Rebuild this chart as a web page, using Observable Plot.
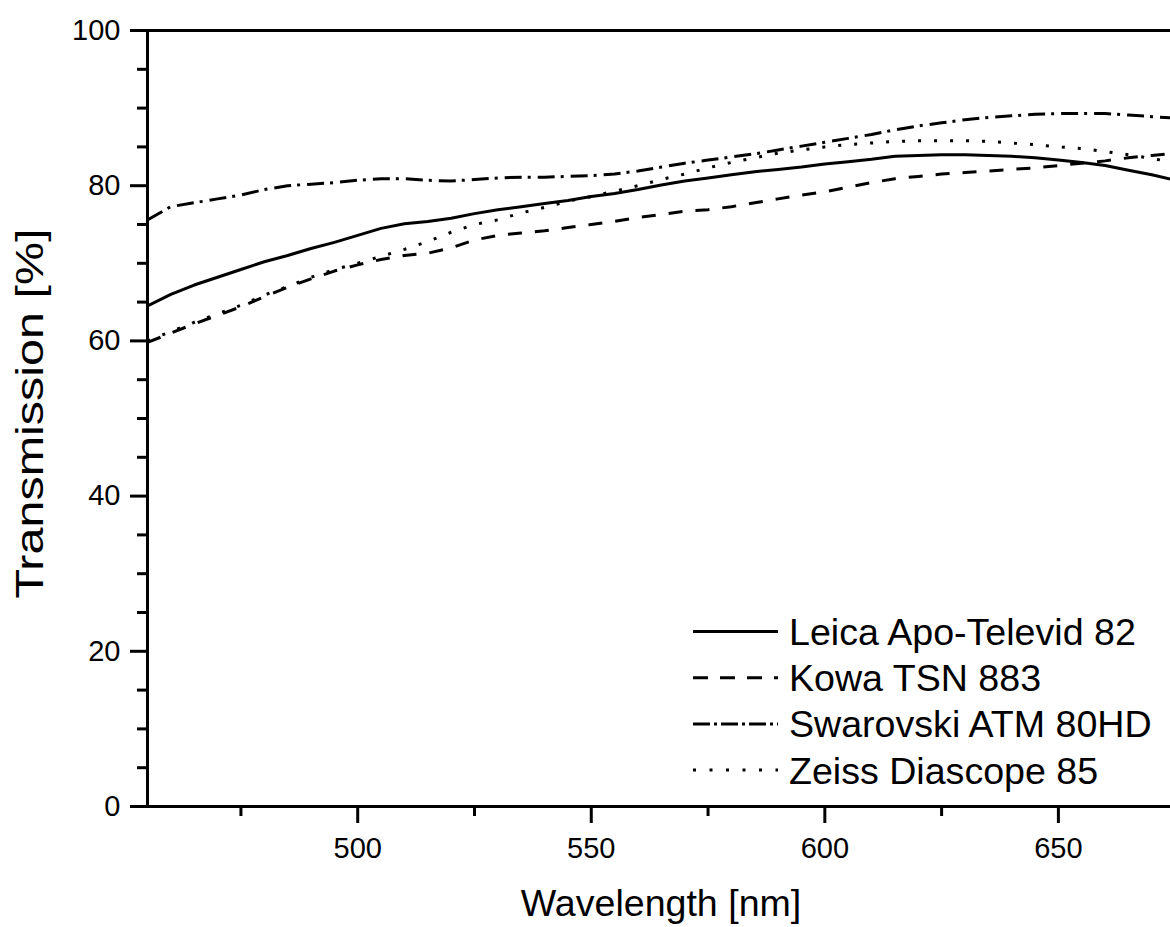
<!DOCTYPE html>
<html>
<head>
<meta charset="utf-8">
<script src="https://cdn.jsdelivr.net/npm/d3@7"></script>
<script src="https://cdn.jsdelivr.net/npm/@observablehq/plot@0.6"></script>
<style>
  html, body { margin: 0; padding: 0; background: #fff; }
  #wrap { position: relative; width: 1170px; height: 927px; overflow: hidden; font-family: "Liberation Sans", Arial, sans-serif; }
  #legend { position: absolute; left: 0; top: 0; }
</style>
</head>
<body>
<div id="wrap"></div>
<script>
// ---- data ----
const wavelength = [455,460,465,470,475,480,485,490,495,500,505,510,515,520,525,530,535,540,545,550,555,560,565,570,575,580,585,590,595,600,605,610,615,620,625,630,635,640,645,650,655,660,665,670,675];
const leica =      [64.5,66.0,67.2,68.2,69.2,70.2,71.0,71.9,72.7,73.6,74.5,75.1,75.4,75.8,76.4,76.9,77.3,77.7,78.1,78.6,79.0,79.5,80.1,80.6,81.0,81.4,81.8,82.1,82.4,82.8,83.1,83.4,83.8,83.9,84.0,84.0,83.9,83.8,83.6,83.3,83.0,82.6,82.0,81.4,80.7];
const kowa =       [59.8,61.0,62.2,63.3,64.4,65.7,66.9,68.0,69.0,69.8,70.5,71.0,71.3,72.0,73.0,73.6,73.9,74.2,74.6,75.0,75.4,75.9,76.3,76.7,76.9,77.3,77.8,78.3,78.8,79.2,79.8,80.4,80.9,81.2,81.5,81.7,81.9,82.1,82.3,82.6,82.9,83.2,83.6,83.9,84.2];
const swarovski =  [75.6,77.3,77.8,78.3,78.8,79.5,80.0,80.2,80.4,80.7,80.9,80.9,80.7,80.6,80.8,81.0,81.1,81.1,81.2,81.3,81.5,81.9,82.4,82.9,83.3,83.7,84.1,84.6,85.1,85.6,86.1,86.6,87.2,87.7,88.1,88.5,88.8,89.0,89.2,89.3,89.3,89.3,89.1,88.9,88.7];
const zeiss =      [60.0,61.2,62.4,63.5,64.6,65.9,67.0,68.2,69.2,70.0,70.9,71.8,72.8,74.0,75.0,75.6,76.5,77.2,78.0,78.6,79.3,80.0,80.8,81.5,82.3,83.0,83.6,84.2,84.6,85.0,85.3,85.5,85.7,85.8,85.8,85.8,85.7,85.5,85.3,85.0,84.8,84.4,84.0,83.5,83.0];

const seriesNames = ["Leica Apo-Televid 82", "Kowa TSN 883", "Swarovski ATM 80HD", "Zeiss Diascope 85"];
const seriesValues = [leica, kowa, swarovski, zeiss];
const seriesDash = [null, "14,13", "17,6,3,7", "3,13"];
const legendDash = [null, "15,12", "17,4,3,4", "3,13.5"];

const xDomain = [455, 674];
const yMajorTicks = [0, 20, 40, 60, 80, 100];
const yMinorTicks = [5, 10, 15, 25, 30, 35, 45, 50, 55, 65, 70, 75, 85, 90, 95];
const xMajorTicks = [500, 550, 600, 650];
const xMinorTicks = [475, 525, 575, 625];

const xTitle = "Wavelength [nm]";
const yTitle = "Transmission [%]";

// ---- build table ----
const rows = [];
seriesNames.forEach((name, s) => {
  wavelength.forEach((w, i) => rows.push({series: name, nm: w, value: seriesValues[s][i]}));
});

const font = "Liberation Sans, Arial, sans-serif";

const lineMarks = seriesNames.map((name, s) =>
  Plot.lineY(rows.filter(d => d.series === name), {
    x: "nm", y: "value", stroke: "black", strokeWidth: 3,
    strokeDasharray: seriesDash[s] || undefined, strokeLinecap: "butt",
    clip: true
  })
);

const chart = Plot.plot({
  width: 1170,
  height: 927,
  marginLeft: 147,
  marginRight: 0,
  marginTop: 30,
  marginBottom: 121,
  x: {domain: xDomain},
  y: {domain: [0, 100]},
  style: {fontFamily: font, color: "black", background: "white", overflow: "visible"},
  marks: [
    ...lineMarks,
    Plot.ruleY([0, 100], {strokeWidth: 3}),
    Plot.ruleX([xDomain[0]], {strokeWidth: 3}),
    Plot.axisY(yMajorTicks, {tickSize: 17, tickPadding: 10, fontSize: 29, strokeWidth: 3, label: null}),
    Plot.axisY(yMinorTicks, {tickSize: 10, tickFormat: () => "", strokeWidth: 3, label: null}),
    Plot.axisX(xMajorTicks, {tickSize: 17, tickPadding: 14, fontSize: 29, strokeWidth: 3, label: null}),
    Plot.axisX(xMinorTicks, {tickSize: 10, tickFormat: () => "", strokeWidth: 3, label: null}),
    Plot.text([xTitle], {text: d => d, frameAnchor: "bottom", lineAnchor: "middle", textAnchor: "middle", dy: 97, dx: 2, fontSize: 37.6}),
    Plot.text([yTitle], {text: d => d, frameAnchor: "left", lineAnchor: "middle", textAnchor: "middle", rotate: -90, dx: -117, dy: -5, fontSize: 38, className: "ytitle"})
  ]
});

// stretch the y title along its length, as in the reference
d3.select(chart).selectAll("text").filter(function() { return this.textContent === yTitle; })
  .attr("textLength", 370).attr("lengthAdjust", "spacingAndGlyphs");

const wrap = document.getElementById("wrap");
wrap.appendChild(chart);

// ---- legend overlay (inside the plot area, lower right) ----
const lg = d3.select(wrap).append("svg")
  .attr("id", "legend")
  .attr("width", 1170).attr("height", 927)
  .style("pointer-events", "none");
const legendX0 = 693, legendX1 = 778, legendTextX = 789, legendBase = 645, legendStep = 46.2;
seriesNames.forEach((name, s) => {
  const base = legendBase + s * legendStep;
  lg.append("line")
    .attr("x1", legendX0).attr("x2", legendX1)
    .attr("y1", base - 13.5).attr("y2", base - 13.5)
    .attr("stroke", "black").attr("stroke-width", 3)
    .attr("stroke-dasharray", legendDash[s]);
  lg.append("text")
    .attr("x", legendTextX).attr("y", base)
    .attr("font-family", font).attr("font-size", 37.6)
    .attr("fill", "black")
    .text(name);
});
</script>
</body>
</html>
